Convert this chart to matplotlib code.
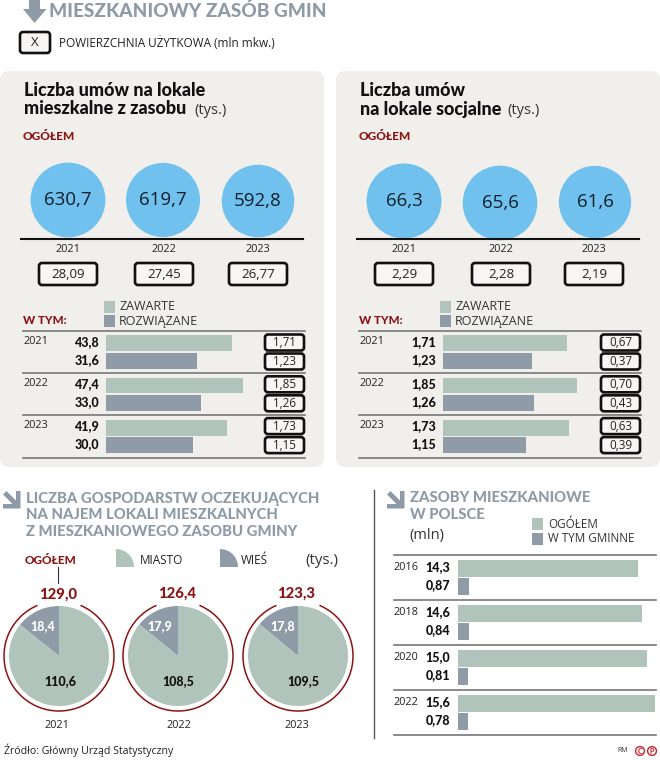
import matplotlib
matplotlib.use('Agg')
import matplotlib.pyplot as plt
import numpy as np
from matplotlib.patches import FancyBboxPatch, Polygon, Rectangle, Wedge, Arc, Circle

plt.rcParams['font.family'] = ['Open Sans', 'DejaVu Sans']

W, H = 660, 760
GREEN = '#b1c4bb'
GREY = '#8f9ca8'
BLUE = '#70c1ee'
PANEL = '#f1efec'
RED = '#8c1414'
HEAD = '#8e9ba6'

years = ['2021', '2022', '2023']

# liczba umow - lokale mieszkalne
flat_total = [630.7, 619.7, 592.8]
flat_area = ['28,09', '27,45', '26,77']
flat_signed = [43.8, 47.4, 41.9]
flat_ended = [31.6, 33.0, 30.0]
flat_signed_area = ['1,71', '1,85', '1,73']
flat_ended_area = ['1,23', '1,26', '1,15']

# lokale socjalne
social_total = [66.3, 65.6, 61.6]
social_area = ['2,29', '2,28', '2,19']
social_signed = [1.71, 1.85, 1.73]
social_ended = [1.23, 1.26, 1.15]
social_signed_area = ['0,67', '0,70', '0,63']
social_ended_area = ['0,37', '0,43', '0,39']

# gospodarstwa oczekujace
wait_total = [129.0, 126.4, 123.3]
wait_city = [110.6, 108.5, 109.5]
wait_rural = [18.4, 17.9, 17.8]

# zasoby mieszkaniowe
stock_years = ['2016', '2018', '2020', '2022']
stock_all = [14.3, 14.6, 15.0, 15.6]
stock_gmina = [0.87, 0.84, 0.81, 0.78]


def pl(v):
    return ('%.1f' % v).replace('.', ',')


def pl2(v):
    return ('%.2f' % v).replace('.', ',')


fig = plt.figure(figsize=(W / 100, H / 100), dpi=100)


def page_axes(z):
    a = fig.add_axes([0, 0, 1, 1], zorder=z)
    a.set_xlim(0, W)
    a.set_ylim(H, 0)
    a.axis('off')
    a.patch.set_alpha(0)
    return a


ax = page_axes(0)
top = page_axes(10)


def sub_axes(x0, y0, x1, y1):
    a = fig.add_axes([x0 / W, 1 - y1 / H, (x1 - x0) / W, (y1 - y0) / H], zorder=5)
    a.axis('off')
    a.patch.set_alpha(0)
    return a


def txt(x, y, s, size=8, color='#111111', weight='normal', ha='left', va='center', zorder=6):
    fam = ['Lato', 'Open Sans', 'DejaVu Sans'] if weight != 'normal' else ['Open Sans', 'DejaVu Sans']
    return top.text(x, y, s, fontsize=size, color=color, weight=weight, ha=ha, va=va, zorder=zorder, family=fam)


def box(x0, y0, x1, y1, s, size=9.5):
    p = FancyBboxPatch((x0, y0), x1 - x0, y1 - y0, boxstyle='round,pad=0,rounding_size=3',
                       fc='#f7f6f4', ec='#111111', lw=1.9, zorder=4)
    top.add_patch(p)
    txt((x0 + x1) / 2, (y0 + y1) / 2, s, size=size, ha='center', color='#222222')


def arrow_diag(x, y):
    ax.add_patch(Polygon([(x + 13, y), (x + 17.5, y), (x + 17.5, y + 17.5), (x, y + 17.5), (x, y + 13),
                          (x + 9.5, y + 13), (x, y + 3.5), (x + 3.5, y), (x + 13, y + 9.5)], fc=HEAD, ec='none'))


# naglowek
ax.add_patch(Polygon([(29, 0), (40, 0), (40, 9), (46.5, 9), (34.5, 23), (23, 9), (29, 9)], fc=HEAD, ec='none'))
txt(49, 11, 'MIESZKANIOWY ZASÓB GMIN', size=13.7, color=HEAD, weight='black')
box(20, 32, 50, 53, 'X', size=9.5)
txt(59, 43, 'POWIERZCHNIA UŻYTKOWA (mln mkw.)', size=8.5, color='#222222')


def panel(x_off, title1, title2, tys_x, totals, circle_x, circle_y, r_scale, areas, area_x,
          signed, ended, signed_area, ended_area, bar_x0, px_per_unit, fmt, box_x0, box_x1):
    ax.add_patch(FancyBboxPatch((x_off, 71), 324, 396, boxstyle='round,pad=0,rounding_size=9',
                                fc=PANEL, ec='none', zorder=1))
    txt(x_off + 24, 91, title1, size=13, weight='black')
    txt(x_off + 24, 109, title2, size=13, weight='black')
    txt(tys_x, 110, '(tys.)', size=10.5, color='#333333')
    txt(x_off + 23, 136, 'OGÓŁEM', size=8.6, color=RED, weight='black')

    # kola - pole proporcjonalne do wartosci
    sizes = [v * r_scale for v in totals]
    ax.scatter(circle_x, circle_y, s=sizes, color=BLUE, linewidths=0, zorder=3)
    for cx, cy, v in zip(circle_x, circle_y, totals):
        txt(cx, cy, pl(v), size=13.5, ha='center', color='#10202c')

    ax.plot([x_off + 21, x_off + 303], [239, 239], color='#111111', lw=1.5, zorder=3)
    for y, a, ax0 in zip(years, areas, area_x):
        txt(ax0 + 29, 250, y, size=7.8, ha='center', color='#222222')
        box(ax0, 263, ax0 + 58, 285, a, size=9.5)

    # legenda
    ax.add_patch(Rectangle((x_off + 104, 301), 11, 12, fc=GREEN, ec='none', zorder=3))
    ax.add_patch(Rectangle((x_off + 104, 315), 11, 12, fc=GREY, ec='none', zorder=3))
    txt(x_off + 119, 307, 'ZAWARTE', size=9, color='#333333')
    txt(x_off + 119, 321, 'ROZWIĄZANE', size=9, color='#333333')
    txt(x_off + 23, 321, 'W TYM:', size=8.4, color=RED, weight='black')

    # slupki
    a = sub_axes(x_off + 23, 330.5, x_off + 305, 457.5)
    a.set_xlim((x_off + 23 - bar_x0) / px_per_unit, (x_off + 305 - bar_x0) / px_per_unit)
    a.set_ylim(2.5, -0.5)
    ypos = np.arange(3)
    a.barh(ypos - 0.2, signed, height=0.375, color=GREEN)
    a.barh(ypos + 0.215, ended, height=0.375, color=GREY)
    for yy in [-0.5, 0.5, 1.5, 2.5]:
        a.axhline(yy, color='#777777', lw=1.2, clip_on=False)

    row = 42.3
    for i in range(3):
        yc = 351.5 + i * row - i * 0.5
        txt(x_off + 23, yc - 9.5, years[i], size=7.8, color='#222222')
        txt(bar_x0 - 7, yc - 9.5, fmt(signed[i]), size=9, weight='black', ha='right')
        txt(bar_x0 - 7, yc + 8.5, fmt(ended[i]), size=9, weight='black', ha='right')
        box(box_x0, yc - 17, box_x1, yc - 1, signed_area[i], size=8.4)
        box(box_x0, yc + 2, box_x1, yc + 18, ended_area[i], size=8.4)


panel(0, 'Liczba umów na lokale', 'mieszkalne z zasobu', 194, flat_total, [68, 163, 258], [200, 200, 201],
      4.6, flat_area, [39, 135, 229], flat_signed, flat_ended, flat_signed_area, flat_ended_area,
      106, 2.885, pl, 265, 304)
panel(336, 'Liczba umów', 'na lokale socjalne', 507, social_total, [404, 500, 595], [201, 203, 202],
      44, social_area, [375, 472, 565], social_signed, social_ended, social_signed_area, social_ended_area,
      443, 72.6, pl2, 601, 640)

# gospodarstwa
arrow_diag(3, 491)
for y, s in zip([499, 515, 532], ['LICZBA GOSPODARSTW OCZEKUJĄCYCH', 'NA NAJEM LOKALI MIESZKALNYCH',
                                  'Z MIESZKANIOWEGO ZASOBU GMINY']):
    txt(26, y, s, size=10.7, color=HEAD, weight='black')
txt(25, 560, 'OGÓŁEM', size=8.5, color=RED, weight='black')
ax.plot([57.5, 57.5], [567, 583], color='#333333', lw=0.8)
ax.add_patch(Wedge((116, 567), 18, 270, 360, fc=GREEN, ec='none'))
ax.add_patch(Wedge((220, 567), 18, 270, 360, fc=GREY, ec='none'))
txt(140, 560, 'MIASTO', size=8.5, color='#222222')
txt(241, 560, 'WIEŚ', size=8.5, color='#222222')
txt(305, 560, '(tys.)', size=10.8, color='#333333')

pie_x = [59, 178, 298]
total_x = [58, 177.5, 296]
total_y = [595, 594, 594]
rural_dx = [-16, -18, -15]
city_dx = [1, 0, 5]
year_x = [57, 179, 297]
for i in range(3):
    a = sub_axes(pie_x[i] - 57, 656 - 57, pie_x[i] + 57, 656 + 57)
    a.pie([wait_rural[i], wait_city[i]], colors=[GREY, GREEN], startangle=90, counterclock=True,
          radius=50 / 57, center=(0, 0))
    a.set_xlim(-1, 1)
    a.set_ylim(-1, 1)
    a.add_patch(Arc((0, 0), 110 / 57, 110 / 57, theta1=113, theta2=67, color=RED, lw=1.1))
    txt(pie_x[i] + rural_dx[i], 626, pl(wait_rural[i]), size=9, color='white', weight='black', ha='center')
    txt(pie_x[i] + city_dx[i], 681, pl(wait_city[i]), size=9, weight='black', ha='center')
    txt(total_x[i], total_y[i], pl(wait_total[i]), size=10.7, color=RED, weight='black', ha='center')
    txt(year_x[i], 725, years[i], size=7.8, ha='center', color='#222222')

txt(4, 750, 'Źródło: Główny Urząd Statystyczny', size=7.6, color='#222222')

# zasoby
ax.plot([373.5, 373.5], [490, 738], color='#555555', lw=1)
arrow_diag(387, 491)
txt(410, 498, 'ZASOBY MIESZKANIOWE', size=10.7, color=HEAD, weight='black')
txt(410, 515, 'W POLSCE', size=10.7, color=HEAD, weight='black')
txt(409, 535, '(mln)', size=10.5, color='#333333')
ax.add_patch(Rectangle((532, 518), 11, 12, fc=GREEN, ec='none'))
ax.add_patch(Rectangle((532, 533), 11, 12, fc=GREY, ec='none'))
txt(548, 525, 'OGÓŁEM', size=8.4, color='#333333')
txt(548, 539, 'W TYM GMINNE', size=8.4, color='#333333')

s_px = 12.6
a = sub_axes(394, 555, 656, 735)
a.set_xlim((394 - 458) / s_px, (656 - 458) / s_px)
n = len(stock_all)
a.set_ylim(n - 0.5, -0.5)
ypos = np.arange(n)
a.barh(ypos - 0.2, stock_all, height=0.36, color=GREEN)
a.barh(ypos + 0.2, stock_gmina, height=0.36, color=GREY)
for yy in np.arange(n + 1) - 0.5:
    a.axhline(yy, color='#777777', lw=1.2, clip_on=False)
for i in range(n):
    yc = 577.5 + i * 45
    txt(394, yc - 10, stock_years[i], size=7.8, color='#222222')
    txt(450, yc - 10, pl(stock_all[i]), size=9, weight='black', ha='right')
    txt(450, yc + 8, pl2(stock_gmina[i]), size=9, weight='black', ha='right')

# znaczki w rogu
txt(617, 751, 'RM', size=5, color='#333333')
for cx, s in zip([640, 652], ['C', 'P']):
    ax.add_patch(Circle((cx, 751), 4.4, fc='none', ec='#c8232c', lw=1))
    txt(cx, 751, s, size=5, color='#c8232c', weight='black', ha='center')

fig.savefig('out.png', dpi=100)
plt.close(fig)
